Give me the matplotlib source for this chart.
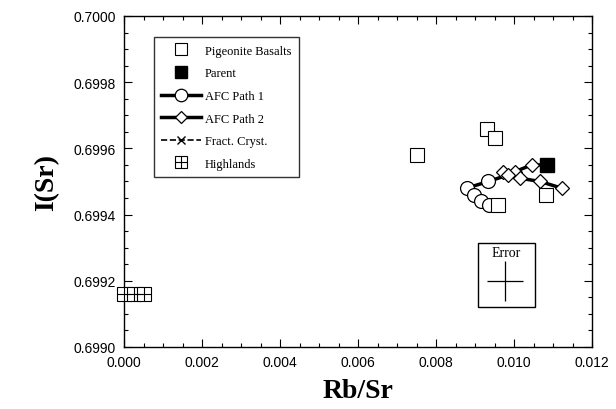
import numpy as np
import matplotlib
matplotlib.use('Agg')
import matplotlib.pyplot as plt
from matplotlib.ticker import MultipleLocator, FormatStrFormatter

# Dados
pig_rbsr = [0.00751, 0.00931, 0.00951, 0.01083, 0.00959]
pig_isr = [0.69958, 0.69966, 0.69963, 0.69946, 0.69943]

parent_rbsr = [0.01084]
parent_isr = [0.69955]

afc1_rbsr = [0.00985, 0.00934, 0.00879, 0.00897, 0.00915, 0.00936]
afc1_isr = [0.69952, 0.69950, 0.69948, 0.69946, 0.69944, 0.69943]

afc2_rbsr = [0.01084, 0.01045, 0.01003, 0.00972, 0.00985, 0.01015, 0.01067, 0.01122]
afc2_isr = [0.69955, 0.69955, 0.69953, 0.69953, 0.69952, 0.69951, 0.69950, 0.69948]

fc_rbsr = []
fc_isr = []

high_rbsr = [0.0000, 0.00025, 0.0005]
high_isr = [0.69916, 0.69916, 0.69916]

err_x, err_y = 0.00977, 0.69920
err_dx, err_dy = 0.00045, 0.00006

serif = ['Liberation Serif', 'DejaVu Serif']
sans = ['Liberation Sans', 'DejaVu Sans']

fig = plt.figure(figsize=(6.16, 4.10), dpi=100)
ax = fig.add_axes([124 / 616, 62 / 410, 468 / 616, 331 / 410])

ax.plot(afc1_rbsr, afc1_isr, '-', color='black', lw=2.5, marker='o', ms=10,
        mfc='white', mec='black', mew=0.9, markevery=list(range(1, len(afc1_rbsr))),
        label='AFC Path 1', zorder=3)
ax.plot(afc2_rbsr, afc2_isr, '-', color='black', lw=2.5, marker='D', ms=7,
        mfc='white', mec='black', mew=0.9, markevery=list(range(1, len(afc2_rbsr))),
        label='AFC Path 2', zorder=3)
ax.plot(fc_rbsr, fc_isr, '--', color='black', lw=1.2, marker='x', ms=7,
        mec='black', label='Fract. Cryst.')

ax.plot(pig_rbsr, pig_isr, 's', ms=10, mfc='white', mec='black', mew=0.8,
        label='Pigeonite Basalts', zorder=4)
ax.plot(parent_rbsr, parent_isr, 's', ms=10, mfc='black', mec='black',
        label='Parent', zorder=5)

ax.plot(high_rbsr, high_isr, 's', ms=10, mfc='white', mec='black', mew=0.8,
        zorder=4, clip_on=False)
ax.plot(high_rbsr, high_isr, '+', ms=10, mec='black', mew=0.8, zorder=5,
        clip_on=False)
h_high, = ax.plot([], [], 's', ms=9, mfc='white', mec='black', mew=0.8)
h_plus, = ax.plot([], [], '+', ms=9, mec='black', mew=0.8)

# Caixa de erro
ax.errorbar([err_x], [err_y], xerr=[err_dx], yerr=[err_dy], fmt='none',
            ecolor='black', elinewidth=0.9, capsize=0)
ax.add_patch(plt.Rectangle((0.00907, 0.69912), 0.00147, 0.000193,
                           fill=False, ec='black', lw=1.0))
ax.text(err_x + 0.00002, 0.699287, 'Error', ha='center', va='center',
        fontsize=10, family=serif)

ax.set_xlim(0.0, 0.012)
ax.set_ylim(0.6990, 0.7000)
ax.xaxis.set_major_locator(MultipleLocator(0.002))
ax.xaxis.set_minor_locator(MultipleLocator(0.0005))
ax.yaxis.set_major_locator(MultipleLocator(0.0002))
ax.yaxis.set_minor_locator(MultipleLocator(0.00005))
ax.xaxis.set_major_formatter(FormatStrFormatter('%.3f'))
ax.yaxis.set_major_formatter(FormatStrFormatter('%.4f'))
ax.tick_params(which='both', direction='in', top=True, right=True, width=0.8)
ax.tick_params(which='major', length=6, labelsize=10, pad=6)
ax.tick_params(which='minor', length=3)
for lab in ax.get_xticklabels() + ax.get_yticklabels():
    lab.set_family(sans)
for s in ax.spines.values():
    s.set_linewidth(1.0)

ax.set_xlabel('Rb/Sr', fontsize=20, fontweight='bold', family=serif, labelpad=6)
ax.set_ylabel('I(Sr)', fontsize=20, fontweight='bold', family=serif, labelpad=10)

handles, labels = ax.get_legend_handles_labels()
order = ['Pigeonite Basalts', 'Parent', 'AFC Path 1', 'AFC Path 2', 'Fract. Cryst.']
hs = [handles[labels.index(n)] for n in order] + [(h_high, h_plus)]
leg = ax.legend(hs, order + ['Highlands'], loc='upper left',
                bbox_to_anchor=(0.05, 0.955), prop={'family': serif, 'size': 9},
                frameon=True, fancybox=False, edgecolor='black',
                handlelength=3.2, handletextpad=0.3, labelspacing=0.85,
                borderpad=0.6, markerscale=0.9)
leg.get_frame().set_linewidth(1.0)

fig.savefig('out.png', dpi=100)
